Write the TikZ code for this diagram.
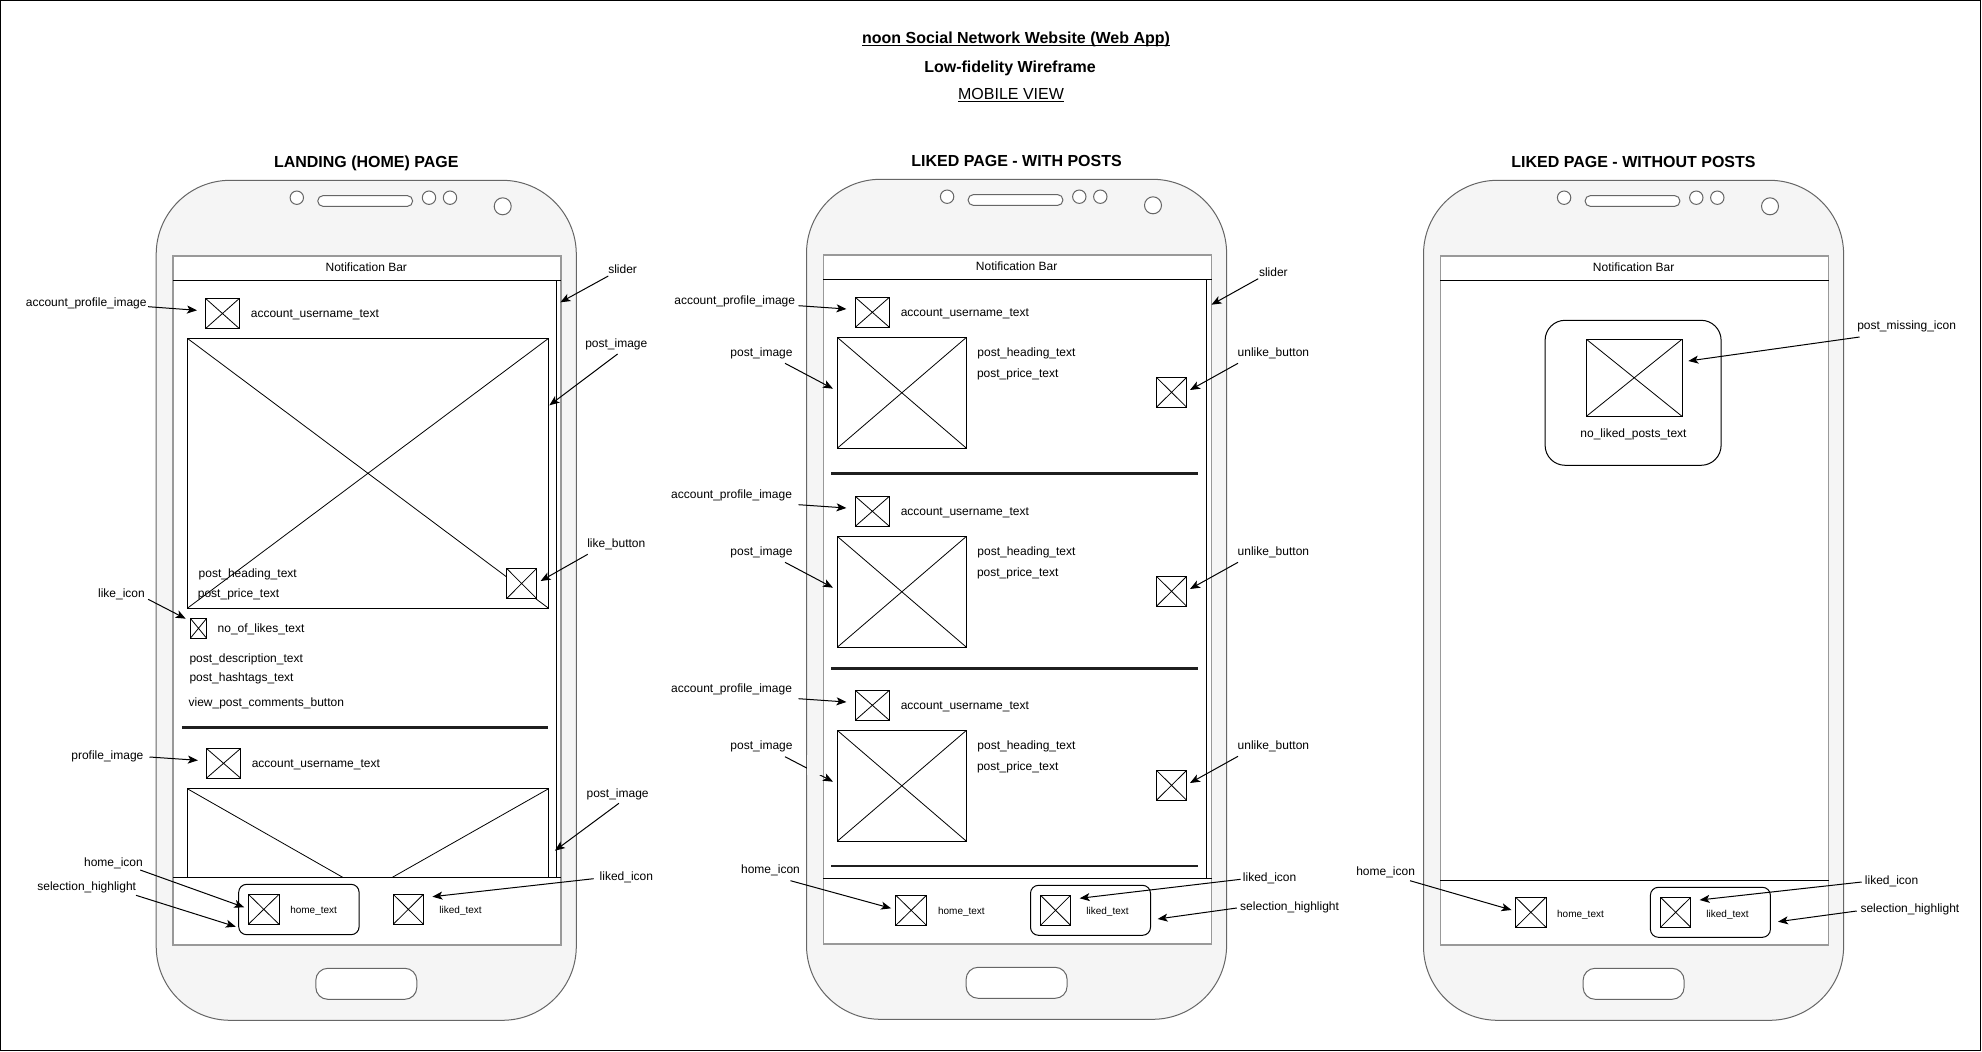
\documentclass[tikz,border=0pt]{standalone}
\usepackage{fontspec}
\setmainfont{Liberation Sans}
\usetikzlibrary{arrows.meta}
\definecolor{bezel}{HTML}{F5F5F5}
\definecolor{bezelline}{HTML}{666666}
\definecolor{screenline}{HTML}{999999}
\tikzset{
  wire/.style={draw=black,line width=1pt},
  devline/.style={draw=bezelline,line width=1pt},
  xb/.style={wire,fill=white,inner sep=0pt,outer sep=0pt,
    path picture={\draw[line width=0.8pt,black]
      (path picture bounding box.north west) -- (path picture bounding box.south east)
      (path picture bounding box.north east) -- (path picture bounding box.south west);}},
  lbl/.style={inner sep=0pt,outer sep=0pt,font=\fontsize{12}{14}\selectfont,text height=10.3pt,text depth=1.7pt},
  sml/.style={inner sep=0pt,outer sep=0pt,font=\fontsize{10}{12}\selectfont,text height=9.4pt,text depth=0.6pt},
  ttl/.style={inner sep=0pt,outer sep=0pt,font=\fontsize{16}{18}\selectfont,text height=12.5pt,text depth=1.5pt},
  arw/.style={draw=black,line width=1pt,-{Stealth[length=10pt,width=8pt,inset=2.5pt]}},
  sep/.style={draw=black!88,line width=2.4pt},
  hl/.style={wire,rounded corners=8pt,inner sep=0pt,outer sep=0pt},
}
\newcommand\ulin[1]{\setbox0\hbox{#1}\rlap{\rule[-2.2pt]{\wd0}{1pt}}\box0}
\newcommand\xbox[5]{\node[xb,minimum width={(#4)-(#2)},minimum height={(#5)-(#3)}] (#1) at ({((#2)+(#4))/2},{((#3)+(#5))/2}) {};}
\newcommand\hlbox[6][8]{\node[hl,rounded corners=#1pt,minimum width={(#5)-(#3)},minimum height={(#6)-(#4)}] (#2) at ({((#3)+(#5))/2},{((#4)+(#6))/2}) {};}
\newcommand\wtxt[4]{\node[lbl,anchor=west] (#1) at (#3,#4) {#2};}
\newcommand\ctxt[4]{\node[lbl] (#1) at (#3,#4) {#2};}
\newcommand\stxt[4]{\node[sml] (#1) at (#3,#4) {#2};}
\newcommand\conn[8]{\node[lbl] (#1) at (#3,#4) {#2};
  \coordinate (#1s) at (#5,#6); \coordinate (#1e) at (#7,#8);
  \draw[arw] (#1s) -- (#1e);}
\newcommand\phone[3]{%
\begin{scope}[shift={(#2,#3)}]
  \node[devline,fill=bezel,rounded corners=74pt,minimum width=420.1pt,minimum height=840pt,inner sep=0pt,outer sep=0pt] (#1body) at (366.25,600.3) {};
  \node[draw=screenline,line width=1.6pt,fill=white,minimum width=388.2pt,minimum height=689pt,inner sep=0pt,outer sep=0pt] (#1screen) at (367.1,600.5) {};
  \node[devline,fill=white,circle,minimum size=13.4pt,inner sep=0pt] (#1camA) at (296.8,197.7) {};
  \node[devline,fill=white,circle,minimum size=13.4pt,inner sep=0pt] (#1camB) at (429,197.7) {};
  \node[devline,fill=white,circle,minimum size=13.4pt,inner sep=0pt] (#1camC) at (450,197.7) {};
  \node[devline,fill=white,circle,minimum size=17pt,inner sep=0pt] (#1camD) at (502.7,206.3) {};
  \node[devline,fill=white,rounded corners=5pt,minimum width=94.7pt,minimum height=10.6pt,inner sep=0pt] (#1spk) at (365.2,201) {};
  \node[devline,fill=white,rounded corners=12pt,minimum width=101pt,minimum height=31pt,inner sep=0pt] (#1home) at (366.3,983.8) {};
  \node[lbl] (#1note) at (366.3,266.7) {Notification Bar};
\end{scope}}
\begin{document}
\begin{tikzpicture}[x=1pt,y=-1pt]
\useasboundingbox (0,0) rectangle (1982,1052);
\draw[wire,fill=white] (0.5,0.5) rectangle (1980.5,1050.5);

% headings
\node[ttl] (h1) at (1016,38.3) {\bfseries\ulin{noon Social Network Website (Web App)}};
\node[ttl] (h2) at (1010,66.7) {\bfseries Low-fidelity Wireframe};
\node[ttl] (h3) at (1011,94.3) {\ulin{MOBILE VIEW}};
\node[ttl] (t1) at (366.3,162.3) {\bfseries LANDING (HOME) PAGE};
\node[ttl] (t2) at (1016.6,161.3) {\bfseries LIKED PAGE - WITH POSTS};
\node[ttl] (t3) at (1633.5,162.3) {\bfseries LIKED PAGE - WITHOUT POSTS};

\phone{pa}{0}{0}
\phone{pb}{650.3}{-1}
\phone{pc}{1267.3}{0}

%%% phone 1
\draw[wire] (pascreen.west |- 0,280.3) -- (pascreen.east |- 0,280.3);
\draw[wire] (556.2,280.3) -- (556.2,877.3);
\draw[wire] (pascreen.west |- 0,877.3) -- (pascreen.east |- 0,877.3);
\xbox{aIconA}{205.4}{298.3}{239.5}{328.7}
\wtxt{aUserA}{account\_username\_text}{250.9}{313}
\xbox{aPost}{187.3}{338.3}{548.6}{608.3}
\xbox{aLike}{506.5}{568.3}{536.8}{598.7}
\wtxt{aHead}{post\_heading\_text}{198.7}{573}
\wtxt{aPrice}{post\_price\_text}{197.9}{593}
\xbox{aHeart}{190.3}{618.3}{206.7}{638.3}
\wtxt{aLikes}{no\_of\_likes\_text}{217.7}{628}
\wtxt{aDesc}{post\_description\_text}{189.5}{658}
\wtxt{aTags}{post\_hashtags\_text}{189.5}{677}
\wtxt{aView}{view\_post\_comments\_button}{188.6}{702}
\draw[sep] (181.9,727.3) -- (548.2,727.3);
\xbox{aIconB}{206.3}{748.3}{240.8}{778.3}
\wtxt{aUserB}{account\_username\_text}{251.8}{763}
\draw[wire] (187.3,877.3) -- (187.3,788.7) -- (548.6,788.7) -- (548.6,877.3);
\draw[line width=0.8pt] (187.3,788.7) -- (342.7,877.3) (548.6,788.7) -- (392.4,877.3);
\hlbox{aSel}{238.7}{884.3}{359.1}{934.7}
\xbox{aHome}{248.4}{894.3}{279.1}{924.3}
\stxt{aHomeT}{home\_text}{313.6}{909.3}
\xbox{aLiked}{393.2}{894.3}{423.5}{924.3}
\stxt{aLikedT}{liked\_text}{460.6}{909.3}

\conn{lA}{account\_profile\_image}{86.2}{302}{148.2}{306.7}{197}{310.3}
\conn{lB}{slider}{622.6}{268.7}{608.3}{276}{560.4}{302.3}
\conn{lC}{post\_image}{616.3}{343}{617.6}{354}{549.4}{405.3}
\conn{lD}{like\_button}{616.3}{543}{587.7}{554.3}{540.6}{581}
\conn{lE}{like\_icon}{121.5}{593}{148.2}{599.3}{185.7}{618.7}
\conn{lF}{profile\_image}{107.4}{755}{149.5}{757}{197.9}{760.3}
\conn{lG}{post\_image}{617.6}{793.3}{618.9}{803.3}{554.9}{850.7}
\conn{lH}{home\_icon}{113.5}{862}{140.2}{870}{244.2}{907.3}
\conn{lI}{selection\_highlight}{86.7}{886}{136}{895.3}{235.8}{926.7}
\conn{lJ}{liked\_icon}{626.4}{876}{593.6}{878.7}{432.4}{896.7}

%%% phone 2
\draw[wire] (pbscreen.west |- 0,279.3) -- (pbscreen.east |- 0,279.3);
\draw[wire] (1206.5,279.3) -- (1206.5,878.3);
\draw[wire] (pbscreen.west |- 0,878.3) -- (pbscreen.east |- 0,878.3);
% section 1
\xbox{bIconA}{855.3}{297.3}{889.4}{327.3}
\wtxt{bUserA}{account\_username\_text}{900.8}{312}
\xbox{bPostA}{837.2}{337.3}{966.5}{448.3}
\wtxt{bHeadA}{post\_heading\_text}{977.4}{352}
\wtxt{bPriceA}{post\_price\_text}{977}{373}
\xbox{bUnA}{1156.4}{377.3}{1186.7}{407.3}
\draw[sep] (831.3,473.3) -- (1198,473.3);
% section 2
\xbox{bIconB}{855.3}{496.3}{889.4}{526.3}
\wtxt{bUserB}{account\_username\_text}{900.8}{511}
\xbox{bPostB}{837.2}{536.3}{966.5}{647.3}
\wtxt{bHeadB}{post\_heading\_text}{977.4}{551}
\wtxt{bPriceB}{post\_price\_text}{977}{572}
\xbox{bUnB}{1156.4}{576.3}{1186.7}{606.3}
\draw[sep] (831.3,668.3) -- (1198,668.3);
% section 3
\xbox{bIconC}{855.3}{690.3}{889.4}{720.3}
\wtxt{bUserC}{account\_username\_text}{900.8}{705}
\xbox{bPostC}{837.2}{730.3}{966.5}{841.3}
\wtxt{bHeadC}{post\_heading\_text}{977.4}{745}
\wtxt{bPriceC}{post\_price\_text}{977}{766}
\xbox{bUnC}{1156.4}{770.3}{1186.7}{800.3}
\draw[sep] (831.3,866) -- (1198,866);
% nav
\xbox{bHome}{895.8}{895.3}{926.5}{925.3}
\stxt{bHomeT}{home\_text}{961.4}{910.3}
\hlbox{bSel}{1030.5}{885.3}{1150.5}{935.3}
\xbox{bLiked}{1040.6}{895.3}{1070.5}{925.3}
\stxt{bLikedT}{liked\_text}{1107.5}{910.3}

\conn{mA}{account\_profile\_image}{734.7}{300}{798.5}{305.7}{846.5}{309}
\conn{mB}{slider}{1273.4}{272}{1258.2}{278.7}{1211.5}{304.7}
\conn{mC}{post\_image}{761.5}{352}{785}{363.3}{833}{388.7}
\conn{mD}{unlike\_button}{1273.4}{352}{1238}{363.3}{1190}{390}
\conn{mE}{account\_profile\_image}{731.6}{494}{798.5}{504.7}{846.5}{508}
\conn{mF}{post\_image}{761.5}{551}{785}{562.3}{833}{587.7}
\conn{mG}{unlike\_button}{1273.4}{551}{1238}{562.3}{1190}{589}
\conn{mH}{account\_profile\_image}{731.6}{688}{798.5}{698.7}{846.5}{702}
\conn{mI}{post\_image}{761.5}{745}{785}{756.7}{833}{781.7}
% this connector runs behind the device bezel
\fill[bezel] (807.1,755) rectangle (823.3,775);
\draw[draw=screenline,line width=1.6pt] (pbscreen.west |- 0,755) -- (pbscreen.west |- 0,775);
\conn{mJ}{unlike\_button}{1273.4}{745}{1238}{756.3}{1190}{783}
\conn{mK}{home\_icon}{770.5}{869}{790.5}{880.7}{891.1}{908.3}
\conn{mL}{liked\_icon}{1269.6}{877}{1240.6}{879.3}{1079.7}{898.3}
\conn{mM}{selection\_highlight}{1289.6}{906}{1236.8}{908}{1157.6}{919}

%%% phone 3
\draw[wire] (pcscreen.west |- 0,280.3) -- (pcscreen.east |- 0,280.3);
\draw[wire] (pcscreen.west |- 0,880) -- (pcscreen.east |- 0,880);
\hlbox[20]{cBox}{1545.1}{320.3}{1721.1}{465.3}
\xbox{cMiss}{1586.4}{339.3}{1682}{416.3}
\ctxt{cNone}{no\_liked\_posts\_text}{1633.5}{433}
\xbox{cHome}{1515.7}{897.3}{1546}{927.3}
\stxt{cHomeT}{home\_text}{1580.5}{912.7}
\hlbox{cSel}{1650.4}{887.3}{1770.4}{937.3}
\xbox{cLiked}{1660.5}{897.3}{1690.8}{927.3}
\stxt{cLikedT}{liked\_text}{1727.6}{912.7}

\conn{nA}{post\_missing\_icon}{1906.6}{325}{1859.6}{337}{1688.3}{361}
\conn{nB}{home\_icon}{1385.6}{871}{1410}{880.7}{1511.5}{910}
\conn{nC}{liked\_icon}{1891.6}{880}{1861.7}{882}{1699.6}{900}
\conn{nD}{selection\_highlight}{1909.9}{908}{1856.7}{911}{1778}{921.7}
\end{tikzpicture}
\end{document}
